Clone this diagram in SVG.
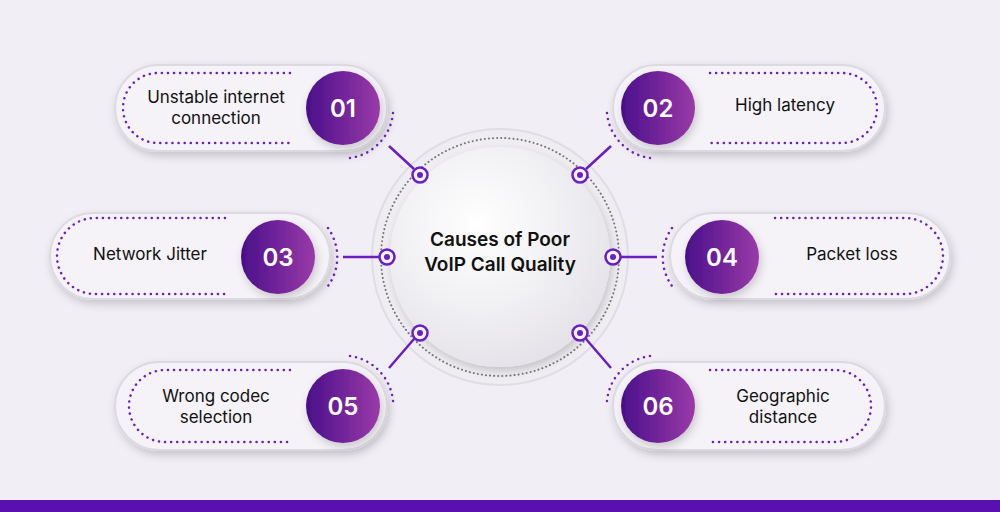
<svg xmlns="http://www.w3.org/2000/svg" width="1000" height="512" viewBox="0 0 1000 512">
<defs>
<linearGradient id="pg" x1="0" y1="0" x2="1" y2="0"><stop offset="0" stop-color="#4a0f8a"/><stop offset="1" stop-color="#9a3aa8"/></linearGradient>
<radialGradient id="cg" cx="0.4" cy="0.35" r="0.7"><stop offset="0" stop-color="#ffffff"/><stop offset="1" stop-color="#e4e2e8"/></radialGradient>
<filter id="sh" x="-20%" y="-20%" width="140%" height="150%"><feDropShadow dx="2" dy="4" stdDeviation="4" flood-color="#000" flood-opacity="0.18"/></filter>
</defs>
<style>
.pill{fill:#f5f3f8;stroke:#dcd9e0;stroke-width:2;filter:url(#sh)}
.dots{fill:none;stroke:#6a1fc0;stroke-width:2.5;stroke-dasharray:0.1 6;stroke-linecap:round}
.num{fill:url(#pg);filter:url(#sh)}
.nt{font-family:Inter,"Liberation Sans",sans-serif;font-size:24px;font-weight:600;fill:#fff;text-anchor:middle}
.lb{font-family:Inter,"Liberation Sans",sans-serif;font-size:17px;fill:#111;text-anchor:middle}
.ln{stroke:#6a1fc0;stroke-width:2.5;fill:none}
.nd{fill:#f5f3f8;stroke:#6a1fc0;stroke-width:2.5}
.nc{fill:#6a1fc0}
</style>
<rect width="1000" height="512" fill="#f1eef5"/>
<rect y="500" width="1000" height="12" fill="#5a0fb0"/>
<g id="center">
<circle cx="500" cy="257" r="128" fill="#efedf2" stroke="#e0dde4" stroke-width="2"/>
<circle cx="500" cy="257" r="119" class="dots" style="stroke:#777;stroke-width:2;stroke-dasharray:0.1 4"/>
<circle cx="500" cy="257" r="110" fill="url(#cg)" filter="url(#sh)"/>
<text x="500" y="246" class="lb" style="font-size:19px;font-weight:600">Causes of Poor</text>
<text x="500" y="271" class="lb" style="font-size:19px;font-weight:600">VoIP Call Quality</text>
</g>
<g id="n1"><rect x="115" y="65" width="272" height="86" rx="43" class="pill"/><path d="M290 73 H158 A35 35 0 0 0 158 143 H290" class="dots"/><circle cx="343" cy="108" r="37" class="num"/><text x="343" y="117" class="nt">01</text><text x="216" y="103" class="lb">Unstable internet</text><text x="216" y="124" class="lb">connection</text><path d="M393 113 A50 50 0 0 1 350 158" class="dots"/></g>
<g id="n2"><rect x="613" y="65" width="272" height="86" rx="43" class="pill"/><path d="M710 73 H842 A35 35 0 0 1 842 143 H710" class="dots"/><circle cx="658" cy="108" r="37" class="num"/><text x="658" y="117" class="nt">02</text><text x="785" y="111" class="lb">High latency</text><path d="M607 113 A50 50 0 0 0 650 158" class="dots"/></g>
<g id="n3"><rect x="50" y="213" width="280" height="86" rx="43" class="pill"/><path d="M225 218 H95 A38 38 0 0 0 95 294 H225" class="dots"/><circle cx="278" cy="257" r="37" class="num"/><text x="278" y="266" class="nt">03</text><text x="150" y="260" class="lb">Network Jitter</text><path d="M328 228 A50 50 0 0 1 328 286" class="dots"/></g>
<g id="n4"><rect x="670" y="213" width="280" height="86" rx="43" class="pill"/><path d="M775 218 H905 A38 38 0 0 1 905 294 H775" class="dots"/><circle cx="722" cy="257" r="37" class="num"/><text x="722" y="266" class="nt">04</text><text x="852" y="260" class="lb">Packet loss</text><path d="M672 228 A50 50 0 0 0 672 286" class="dots"/></g>
<g id="n5"><rect x="115" y="362" width="272" height="88" rx="44" class="pill"/><path d="M290 370 H165 A36 36 0 0 0 165 442 H290" class="dots"/><circle cx="343" cy="406" r="37" class="num"/><text x="343" y="415" class="nt">05</text><text x="216" y="402" class="lb">Wrong codec</text><text x="216" y="423" class="lb">selection</text><path d="M350 356 A50 50 0 0 1 393 401" class="dots"/></g>
<g id="n6"><rect x="613" y="362" width="272" height="88" rx="44" class="pill"/><path d="M710 370 H835 A36 36 0 0 1 835 442 H710" class="dots"/><circle cx="658" cy="406" r="37" class="num"/><text x="658" y="415" class="nt">06</text><text x="783" y="402" class="lb">Geographic</text><text x="783" y="423" class="lb">distance</text><path d="M650 356 A50 50 0 0 0 607 401" class="dots"/></g>
<g id="connectors">
<path class="ln" d="M389 146 L414 169 M611 146 L586 169 M343 257 L380 257 M657 257 L620 257 M389 368 L414 339 M611 368 L586 339"/>
<circle cx="420" cy="175" r="7.5" class="nd"/><circle cx="420" cy="175" r="3" class="nc"/>
<circle cx="580" cy="175" r="7.5" class="nd"/><circle cx="580" cy="175" r="3" class="nc"/>
<circle cx="387" cy="257" r="7.5" class="nd"/><circle cx="387" cy="257" r="3" class="nc"/>
<circle cx="613" cy="257" r="7.5" class="nd"/><circle cx="613" cy="257" r="3" class="nc"/>
<circle cx="420" cy="333" r="7.5" class="nd"/><circle cx="420" cy="333" r="3" class="nc"/>
<circle cx="580" cy="333" r="7.5" class="nd"/><circle cx="580" cy="333" r="3" class="nc"/>
</g>
</svg>
